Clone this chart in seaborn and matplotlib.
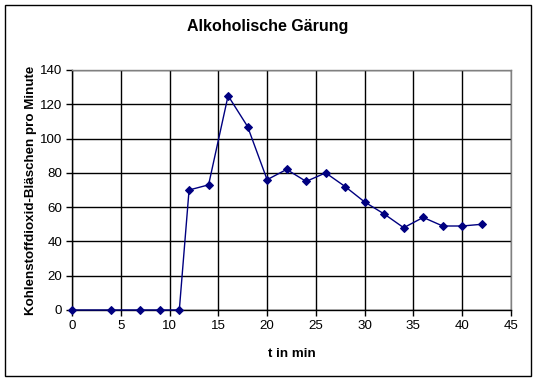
import matplotlib
matplotlib.use("Agg")
import matplotlib.pyplot as plt
import seaborn as sns
import pandas as pd
from matplotlib.patches import Rectangle

t_min = [0, 4, 7, 9, 11, 12, 14, 16, 18, 20, 22, 24, 26, 28, 30, 32, 34, 36, 38, 40, 42]
blaeschen = [0, 0, 0, 0, 0, 70, 73, 125, 107, 76, 82, 75, 80, 72, 63, 56, 48, 54, 49, 49, 50]
x_ticks = [0, 5, 10, 15, 20, 25, 30, 35, 40, 45]
y_ticks = [0, 20, 40, 60, 80, 100, 120, 140]

df = pd.DataFrame({"t": t_min, "n": blaeschen})

sns.set_theme(style="white")
plt.rcParams['font.family'] = ['Liberation Sans', 'DejaVu Sans']
plt.rcParams['text.color'] = 'black'
plt.rcParams['axes.labelcolor'] = 'black'
plt.rcParams['xtick.color'] = 'black'
plt.rcParams['ytick.color'] = 'black'

fig = plt.figure(figsize=(5.36, 3.81), dpi=100)
ax = fig.add_axes([72/536, 1-310/381, (511-72)/536, (310-70)/381])

sns.lineplot(data=df, x="t", y="n", ax=ax, color="#000080", linewidth=1.0,
             marker="D", markersize=3.8, markeredgecolor="#000080", markerfacecolor="#000080",
             clip_on=False, zorder=5)

ax.set_xlim(0, 45)
ax.set_ylim(0, 140)
ax.set_xticks(x_ticks)
ax.set_yticks(y_ticks)
ax.set_xticklabels([str(v) for v in x_ticks], fontsize=9.6)
ax.set_yticklabels([str(v) for v in y_ticks], fontsize=9.6)
ax.grid(True, color="black", linewidth=1.0)
ax.set_axisbelow(True)
ax.tick_params(axis="both", direction="out", length=4, width=1, color="black", labelcolor="black",
               pad=3, bottom=True, left=True)

for s in ["left", "bottom"]:
    ax.spines[s].set_color("black")
    ax.spines[s].set_linewidth(1.0)
for s in ["top", "right"]:
    ax.spines[s].set_color("#808080")
    ax.spines[s].set_linewidth(1.0)

ax.set_xlabel("t in min", fontsize=9.6, fontweight="bold", labelpad=12, color="black")
ax.set_ylabel("Kohlenstoffdioxid-Bläschen pro Minute", fontsize=9.6, fontweight="bold", labelpad=2, color="black")
fig.text(268/536, 1-27/381, "Alkoholische Gärung", ha="center", va="center", fontsize=11.5,
         fontweight="bold", color="black")

fig.patches.append(Rectangle((5/536, 5/381), 526/536, 371/381, transform=fig.transFigure,
                             fill=False, edgecolor="black", linewidth=1.0))

fig.savefig("out.png", dpi=100, facecolor="white")
